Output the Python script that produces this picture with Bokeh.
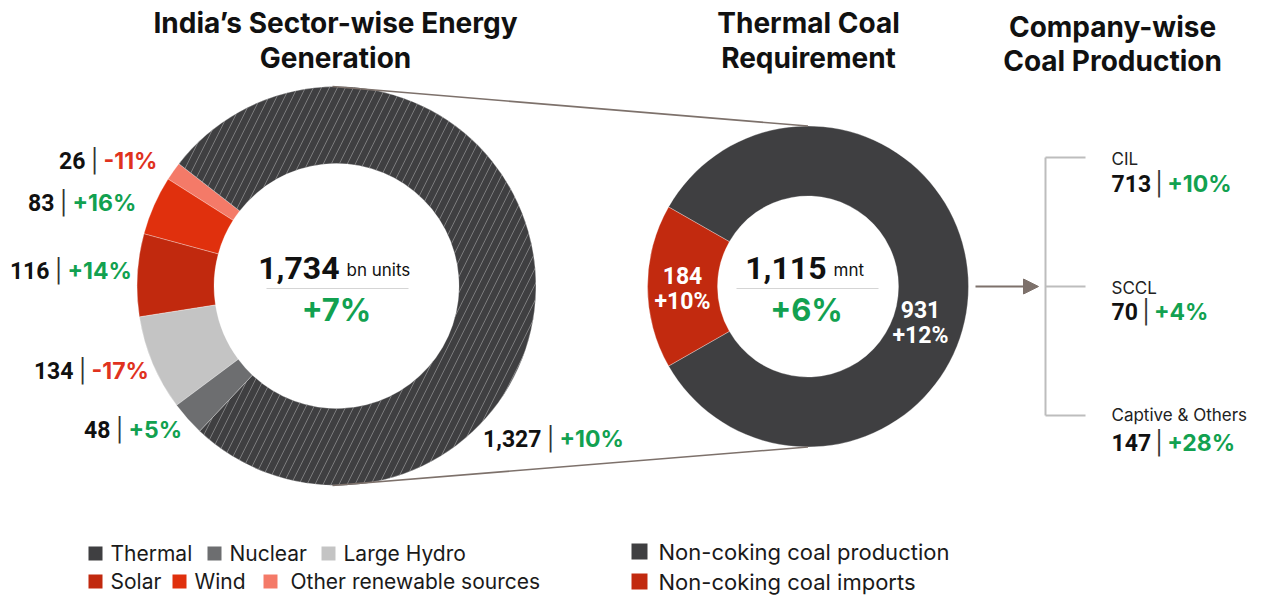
import math
from bokeh.plotting import figure
from bokeh.models import Range1d, Arrow, NormalHead
from bokeh.core.properties import value
from bokeh.embed import file_html
from bokeh.resources import INLINE

# ---------------- data ----------------
sectors = ["Thermal", "Nuclear", "Large Hydro", "Solar", "Wind", "Other renewable sources"]
generation = [1327, 48, 134, 116, 83, 26]
generation_growth = ["+10%", "+5%", "-17%", "+14%", "+16%", "-11%"]
generation_total = "1,734"
generation_total_growth = "+7%"

coal_parts = ["Non-coking coal production", "Non-coking coal imports"]
coal_values = [931, 184]
coal_growth = ["+12%", "+10%"]
coal_total = "1,115"
coal_total_growth = "+6%"

companies = ["CIL", "SCCL", "Captive & Others"]
company_values = [713, 70, 147]
company_growth = ["+10%", "+4%", "+28%"]

# ---------------- style ----------------
sector_colors = ["#3f3f41", "#6d6e70", "#c4c4c4", "#c1290e", "#e0300d", "#f47a68"]
coal_colors = ["#3f3f41", "#c22a0f"]
GREEN = "#12a150"
RED = "#e0321e"
FONT = value("Inter")
NFONT = value("Roboto")
H = 613
LS = 23  # label font size


def Y(sy):
    return H - sy


def gcol(s):
    return GREEN if s.startswith("+") else RED


p = figure(width=1252, height=597, x_range=Range1d(0, 1252), y_range=Range1d(H - 597, H),
           output_backend="svg", toolbar_location=None, min_border=0)
p.axis.visible = False
p.grid.visible = False
p.outline_line_color = None
p.background_fill_color = "white"

# ---------------- left donut ----------------
c1x, c1y, r1o, r1i = 336, 285.5, 199.5, 122.5
total1 = sum(generation)
order = list(range(len(sectors)))[::-1]  # other, wind, solar, hydro, nuclear, thermal
a = math.radians(142.2)
starts, ends, cols, hatch = [], [], [], []
for i in order:
    span = generation[i] / total1 * 2 * math.pi
    starts.append(a)
    ends.append(a + span)
    cols.append(sector_colors[i])
    hatch.append("/" if sectors[i] == "Thermal" else " ")
    a += span
p.annular_wedge(x=c1x, y=Y(c1y), inner_radius=r1i, outer_radius=r1o,
                start_angle=starts, end_angle=ends, fill_color=cols,
                line_color="white", line_width=0.5, line_alpha=0.6,
                hatch_pattern=hatch, hatch_color="#8a8a8c", hatch_scale=16,
                hatch_weight=0.8)

# ---------------- middle donut ----------------
c2x, c2y, r2o, r2i = 807.5, 286, 160.5, 90.5
total2 = sum(coal_values)
imp_span = coal_values[1] / total2 * 2 * math.pi
s0 = math.pi - imp_span / 2
p.annular_wedge(x=c2x, y=Y(c2y), inner_radius=r2i, outer_radius=r2o,
                start_angle=[s0 + imp_span, s0], end_angle=[s0 + 2 * math.pi, s0 + imp_span],
                fill_color=coal_colors, line_color="white", line_width=0.5, line_alpha=0.6)

# connectors
p.line(x=[c1x - 4, c2x], y=[Y(c1y - r1o), Y(c2y - r2o)], line_color="#7d716b", line_width=1.6)
p.line(x=[c1x - 4, c2x], y=[Y(c1y + r1o), Y(c2y + r2o)], line_color="#7d716b", line_width=1.6)

# arrow
p.add_layout(Arrow(end=NormalHead(size=15, fill_color="#7d716b", line_color="#7d716b"),
                   x_start=c2x + r2o + 7, y_start=Y(286), x_end=1038, y_end=Y(286),
                   line_color="#7d716b", line_width=2))

# bracket
BR = "#bdbdbd"
p.line(x=[1045, 1045], y=[Y(157), Y(415)], line_color=BR, line_width=2)
for yy in [157, 286, 415]:
    p.line(x=[1045, 1085], y=[Y(yy), Y(yy)], line_color=BR, line_width=2)

# ---------------- titles ----------------
titles = [
    (335, ["India’s Sector-wise Energy", "Generation"], [22, 57]),
    (808, ["Thermal Coal", "Requirement"], [22, 57]),
    (1112, ["Company-wise", "Coal Production"], [26, 60]),
]
for tx, lines, ys in titles:
    p.text(x=[tx] * len(lines), y=[Y(v) for v in ys], text=lines, text_font=FONT,
           text_font_style="bold", text_font_size="28px", text_align="center",
           text_baseline="middle", text_color="#111111")


# ---------------- value | growth labels ----------------
def vlabel(px, py, val, growth, gap=9, size=LS):
    sz = f"{size}px"
    p.text(x=[px - gap], y=[Y(py)], text=[val], text_font=NFONT, text_font_style="bold",
           text_font_size=sz, text_align="right", text_baseline="middle", text_color="#111111")
    p.text(x=[px], y=[Y(py)], text=["|"], text_font=FONT, text_font_size=sz,
           text_align="center", text_baseline="middle", text_color="#333333")
    p.text(x=[px + gap], y=[Y(py)], text=[growth], text_font=FONT, text_font_style="bold",
           text_font_size=sz, text_align="left", text_baseline="middle", text_color=gcol(growth))


# pipe positions for sector labels (Thermal, Nuclear, Hydro, Solar, Wind, Other)
sector_label_pos = [(550, 438), (119, 429), (82, 370), (58, 270), (63, 202), (94, 160)]
for i, (px, py) in enumerate(sector_label_pos):
    vlabel(px, py, f"{generation[i]:,}", generation_growth[i])

# company labels
comp_y = [(158, 183), (287, 311), (414, 442)]
for i, (ny, vy) in enumerate(comp_y):
    p.text(x=[1111], y=[Y(ny)], text=[companies[i]], text_font=FONT, text_font_size="17px",
           text_align="left", text_baseline="middle", text_color="#222222")
    val = f"{company_values[i]:,}"
    wv = 0.575 * LS * len(val)
    vlabel(1111 + wv + 8, vy, val, company_growth[i], gap=8)

# coal slice labels
p.text(x=[682, 682], y=[Y(275), Y(301)], text=[str(coal_values[1]), coal_growth[1]],
       text_font=NFONT, text_font_style="bold", text_font_size=f"{LS}px", text_align="center",
       text_baseline="middle", text_color="white")
p.text(x=[920, 920], y=[Y(309), Y(335)], text=[str(coal_values[0]), coal_growth[0]],
       text_font=NFONT, text_font_style="bold", text_font_size=f"{LS}px", text_align="center",
       text_baseline="middle", text_color="white")


# ---------------- centre texts ----------------
def centre(cx, split_x, total, unit, growth):
    p.text(x=[split_x], y=[Y(267)], text=[total], text_font=NFONT, text_font_style="bold",
           text_font_size="32px", text_align="right", text_baseline="middle", text_color="#111111")
    p.text(x=[split_x + 7], y=[Y(269)], text=[unit], text_font=FONT, text_font_size="17px",
           text_align="left", text_baseline="middle", text_color="#111111")
    p.line(x=[cx - 71, cx + 71], y=[Y(288), Y(288)], line_color="#d5d5d5", line_width=1)
    p.text(x=[cx - 1], y=[Y(309)], text=[growth], text_font=FONT, text_font_style="bold",
           text_font_size="31px", text_align="center", text_baseline="middle", text_color=GREEN)


centre(337, 339, generation_total, "bn units", generation_total_growth)
centre(807, 826, coal_total, "mnt", coal_total_growth)

# ---------------- legends ----------------
r1, r2 = 553, 581
leg1 = [(95, r1, 0), (214, r1, 1), (328, r1, 2), (95, r2, 3), (179, r2, 4), (270, r2, 5)]
for lx, ly, i in leg1:
    p.rect(x=[lx], y=[Y(ly)], width=14, height=14, fill_color=sector_colors[i], line_color=None)
    tx = lx + 15 if i != 5 else lx + 20
    p.text(x=[tx], y=[Y(ly)], text=[sectors[i]], text_font=FONT, text_font_size="21px",
           text_align="left", text_baseline="middle", text_color="#1a1a1a")
for j, ly in enumerate([r1 - 2, r2]):
    p.rect(x=[639], y=[Y(ly)], width=16, height=16, fill_color=coal_colors[j], line_color=None)
    p.text(x=[658], y=[Y(ly)], text=[coal_parts[j]], text_font=FONT, text_font_size="22px",
           text_align="left", text_baseline="middle", text_color="#1a1a1a")

open("out.html", "w").write(file_html(p, INLINE))
